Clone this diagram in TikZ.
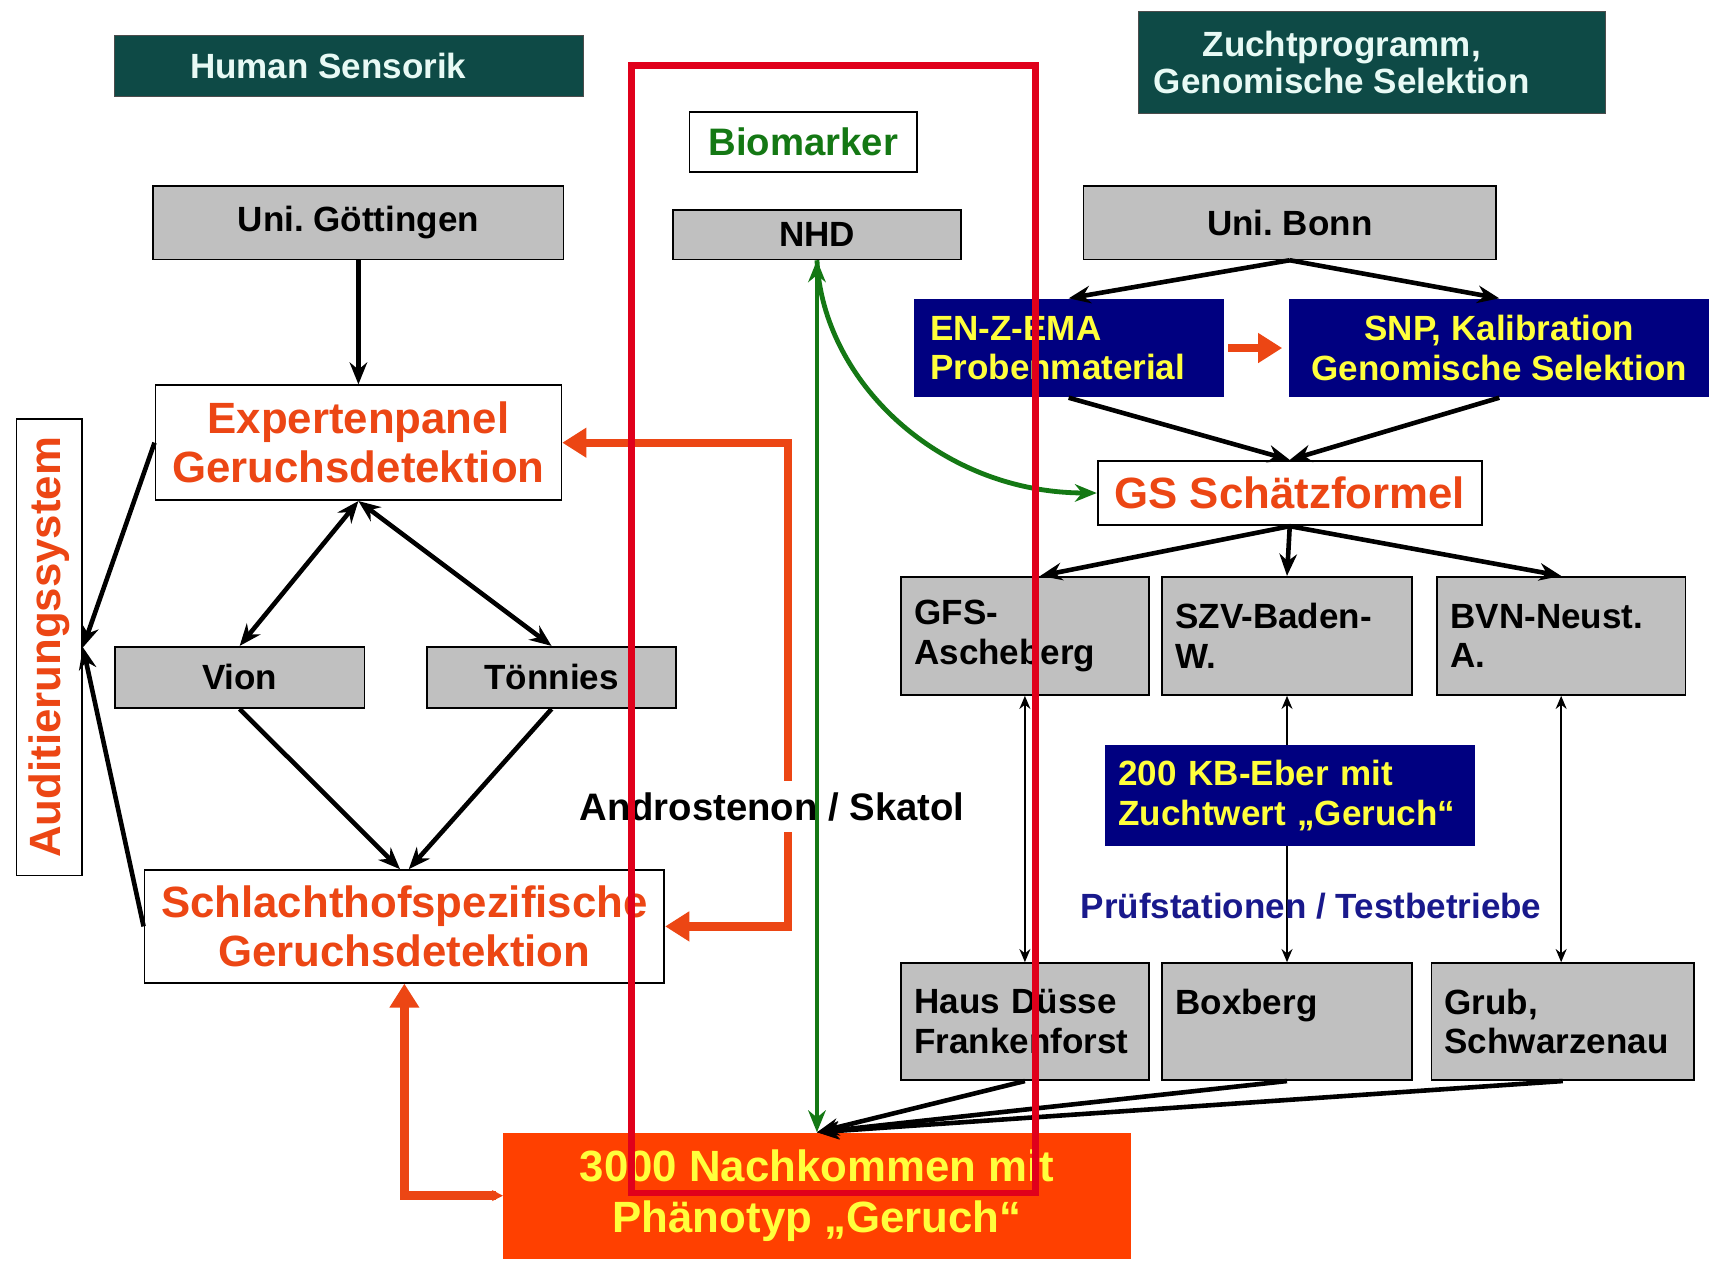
\documentclass[tikz,border=0pt]{standalone}
\usepackage{fontspec}
\setmainfont{Liberation Sans}
\usepackage{tikz}
\usetikzlibrary{arrows.meta}

\definecolor{sensteal}{RGB}{14,74,70}
\definecolor{titletext}{RGB}{232,250,245}
\definecolor{boxgray}{RGB}{192,192,192}
\definecolor{enzblue}{RGB}{0,0,128}
\definecolor{enzyellow}{RGB}{255,255,60}
\definecolor{geruchred}{RGB}{236,70,20}
\definecolor{nachorange}{RGB}{255,64,0}
\definecolor{framered}{RGB}{224,0,27}
\definecolor{biogreen}{RGB}{20,120,20}
\definecolor{pruefblue}{RGB}{25,25,140}

\begin{document}
\begin{tikzpicture}[x=0.5pt,y=-0.5pt,
    title/.style={fill=sensteal,draw=black!70,text=titletext,
      font=\bfseries\fontsize{16}{17}\selectfont,align=center},
    graybox/.style={fill=boxgray,draw=black,line width=0.8pt,
      font=\bfseries\fontsize{16}{18}\selectfont},
    whitebox/.style={fill=white,draw=black,line width=0.8pt,text=geruchred,
      font=\bfseries\fontsize{20}{22.5}\selectfont,align=center},
    bluebox/.style={fill=enzblue,text=enzyellow,
      font=\bfseries\fontsize{16}{18}\selectfont},
    arr/.style={line width=2.1pt,-{Stealth[length=10pt,width=8pt]}},
    dblarr/.style={line width=2.1pt,{Stealth[length=10pt,width=8pt]}-{Stealth[length=10pt,width=8pt]}},
    thinarr/.style={line width=0.9pt,{Stealth[length=6pt,width=5pt]}-{Stealth[length=6pt,width=5pt]}},
    orangearr/.style={line width=3.8pt,draw=geruchred,-{Triangle[length=11pt,width=13pt]}},
    orangedbl/.style={line width=3.8pt,draw=geruchred,{Triangle[length=11pt,width=13pt]}-{Triangle[length=11pt,width=13pt]}},
    greenarr/.style={line width=2.2pt,draw=biogreen,-{Stealth[length=10pt,width=8pt]}},
    greendbl/.style={line width=2.2pt,draw=biogreen,{Stealth[length=10pt,width=8pt]}-{Stealth[length=10pt,width=8pt]}}]

    \path[use as bounding box,fill=white] (0,0) rectangle (1568,1157);

    \node[title,minimum width=214pt,minimum height=28pt] (hsens) at (319,60) {Human Sensorik\hspace{19pt}};
    \node[title,minimum width=213.5pt,minimum height=46.5pt] (zucht) at (1253.5,57)
      {Zuchtprogramm,\hspace*{27.5pt}\\Genomische Selektion\hspace*{27.5pt}};
    \node[draw=black,line width=0.8pt,fill=white,text=biogreen,
      font=\bfseries\fontsize{17.5}{20}\selectfont,
      minimum width=104pt,minimum height=27.5pt] (bio) at (734,129.5) {Biomarker};

    \node[graybox,minimum width=187.5pt,minimum height=33.5pt] (goett) at (327.5,203.5) {Uni.\ Göttingen};
    \node[graybox,minimum width=131.5pt,minimum height=22.5pt,inner sep=0pt] (nhd) at (746.5,214.5) {NHD};
    \node[graybox,minimum width=188.5pt,minimum height=33.5pt] (bonn) at (1178.5,203.5) {Uni.\ Bonn};

    \node[bluebox,minimum width=141.5pt,minimum height=45pt,align=left,
      text width=126.5pt,inner xsep=7.5pt] (enz) at (976.5,318) {EN-Z-EMA\\Probenmaterial};
    \node[bluebox,minimum width=192pt,minimum height=45pt,align=center] (snp) at (1370,318)
      {SNP, Kalibration\\Genomische Selektion};

    \node[whitebox,minimum width=185.5pt,minimum height=52.5pt] (expert) at (327.5,404.5)
      {Expertenpanel\\Geruchsdetektion};
    \node[whitebox,minimum width=175.5pt,minimum height=29.5pt] (gs) at (1178.5,450.5) {GS Schätzformel};
    \node[whitebox,rotate=90,minimum width=208.5pt,minimum height=30pt,inner sep=0pt] (audit) at (45,591.5)
      {Auditierungssystem};

    \node[graybox,minimum width=114pt,minimum height=28pt] (vion) at (219,619) {Vion};
    \node[graybox,minimum width=114pt,minimum height=28pt] (toen) at (504,619) {Tönnies};

    \node[graybox,minimum width=113.5pt,minimum height=54pt,align=left,text width=101pt,inner xsep=6pt]
      (gfs) at (936.5,581) {GFS-\\Ascheberg};
    \node[graybox,minimum width=114pt,minimum height=54pt,align=left,text width=102pt,inner xsep=6pt]
      (szv) at (1176,581) {SZV-Baden-\\W.};
    \node[graybox,minimum width=113.5pt,minimum height=54pt,align=left,text width=101pt,inner xsep=6pt]
      (bvn) at (1426.5,581) {BVN-Neust.\\A.};

    \node[graybox,minimum width=113.5pt,minimum height=53.5pt,align=left,text width=101pt,inner xsep=6pt]
      (haus) at (936.5,933.5) {Haus Düsse\\Frankenforst};
    \node[graybox,minimum width=114pt,minimum height=53.5pt,align=left,text width=102pt,inner xsep=6pt]
      (boxb) at (1176,933.5) {Boxberg\\\mbox{}};
    \node[graybox,minimum width=120pt,minimum height=53.5pt,align=left,text width=108pt,inner xsep=6pt]
      (grub) at (1428,933.5) {Grub,\\Schwarzenau};

    \node[whitebox,minimum width=237.5pt,minimum height=51.5pt] (schlacht) at (369.5,846.5)
      {Schlachthofspezifische\\Geruchsdetektion};
    \node[fill=nachorange,text=enzyellow,font=\bfseries\fontsize{20}{23}\selectfont,align=center,
      minimum width=286.5pt,minimum height=57.5pt] (nach) at (746.5,1092.5)
      {3000 Nachkommen mit\\Phänotyp „Geruch“};

    \draw[arr] (goett) -- (expert);
    \draw[dblarr] (expert.south) -- (vion.north);
    \draw[dblarr] (expert.south) -- (toen.north);
    \draw[arr] (vion.south) -- ([xshift=-2pt]schlacht.north);
    \draw[arr] (toen.south) -- ([xshift=2pt]schlacht.north);
    \draw[arr] (expert.west) -- (audit.south);
    \draw[arr] (schlacht.west) -- (audit.south);

    \coordinate (obend) at (720,404.5);
    \draw[orangedbl] (expert.east) -- (obend) |- (schlacht.east);
    \draw[line width=3.8pt,draw=geruchred,{Stealth[length=5pt,width=5pt]}-{Triangle[length=11pt,width=13pt]}]
      (nach.west) -| (schlacht.south);
    \draw[orangearr,line width=4pt] ([xshift=2pt]enz.east) -- ([xshift=-3pt]snp.west);

    \node[fill=white,font=\bfseries\fontsize{17.5}{20}\selectfont,inner sep=5pt,anchor=west] (andro) at (519,737)
      {Androstenon / Skatol};

    \draw[greendbl] (nhd.south) -- (nach.north);
    \draw[greenarr] (nhd.south) .. controls (752,350) and (860,450) .. (gs.west);

    \draw[arr] (bonn.south) -- (enz.north);
    \draw[arr] (bonn.south) -- (snp.north);
    \draw[arr] (enz.south) -- (gs.north);
    \draw[arr] (snp.south) -- (gs.north);
    \draw[arr] (gs.south) -- ([xshift=7pt]gfs.north);
    \draw[arr] (gs.south) -- (szv.north);
    \draw[arr] (gs.south) -- (bvn.north);

    \draw[thinarr] (gfs.south) -- (haus.north);
    \draw[thinarr] (szv.south) -- (boxb.north);
    \draw[thinarr] (bvn.south) -- (bvn.south |- grub.north);

    \node[bluebox,minimum width=169pt,minimum height=46pt,align=left,text width=157pt,inner xsep=6pt]
      (eber) at (1179,727) {200 KB-Eber mit\\Zuchtwert „Geruch“};
    \node[text=pruefblue,font=\bfseries\fontsize{16}{18}\selectfont] (pruef) at (1198,828)
      {Prüfstationen / Testbetriebe};

    \draw[arr] (haus.south) -- (nach.north);
    \draw[arr] (boxb.south) -- (nach.north);
    \draw[arr] (grub.south) -- (nach.north);

    \draw[framered,line width=3pt] (577,60) rectangle (946,1090);
  \end{tikzpicture}
\end{document}
